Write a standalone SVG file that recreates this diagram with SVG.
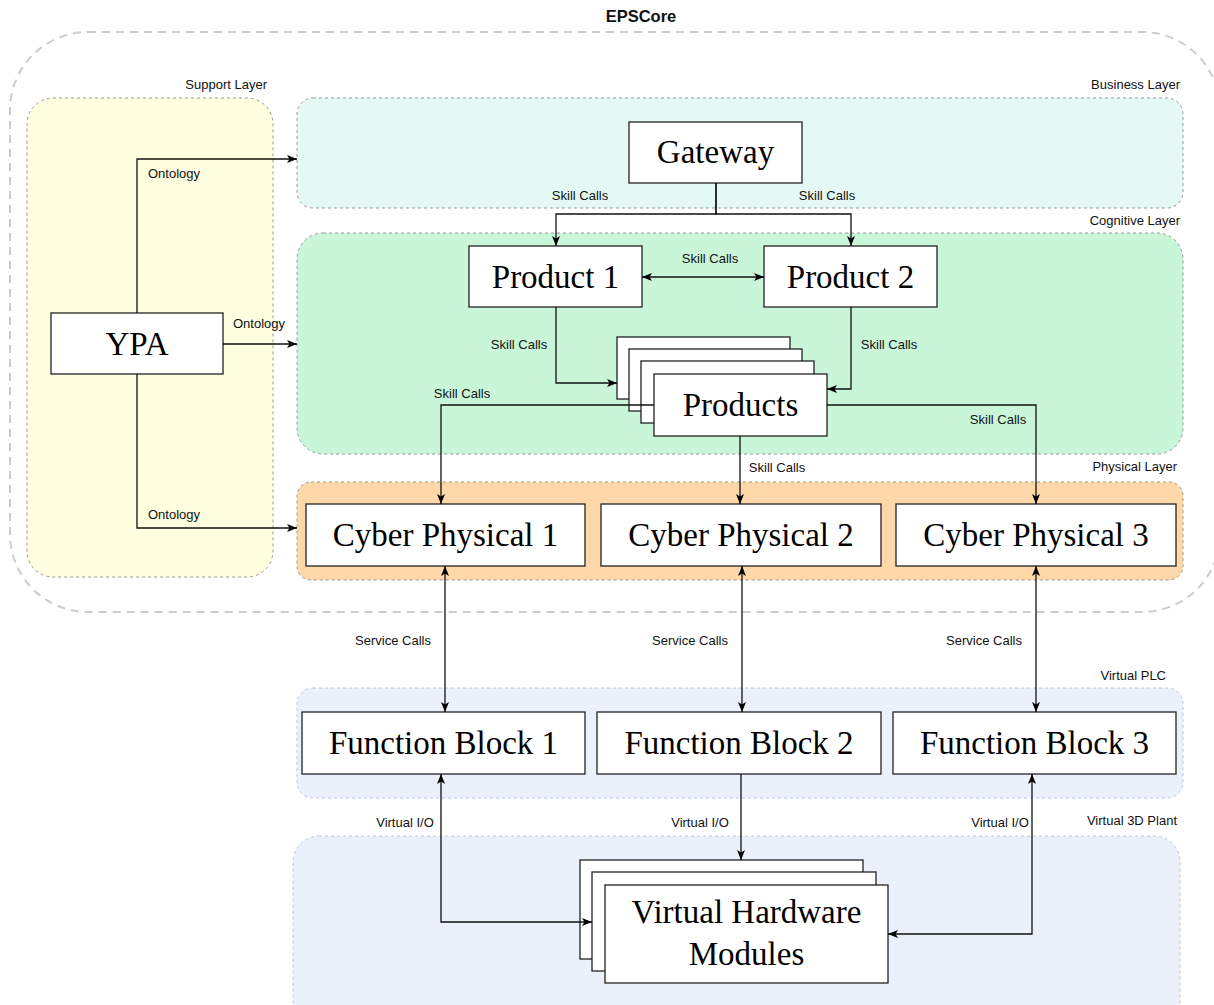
<svg xmlns="http://www.w3.org/2000/svg" width="1214" height="1005" viewBox="0 0 1214 1005">
  <style>
    .layer { stroke: #999999; stroke-width: 1; stroke-dasharray: 3 3; }
    .blue { stroke: #b4c6e6; }
    .lbl { font-family: "Liberation Sans", Arial, sans-serif; font-size: 13px; fill: #111; }
    .node rect { fill: #ffffff; stroke: #222222; stroke-width: 1.3; }
    .node text { font-family: "Liberation Serif", "Times New Roman", serif; font-size: 33px; fill: #000; text-anchor: middle; }
    .conn path { fill: none; stroke: #111; stroke-width: 1.3; }
  </style>
  <defs>
    <marker id="arr" viewBox="0 0 10 8" refX="10" refY="4" markerWidth="10" markerHeight="8" markerUnits="userSpaceOnUse" orient="auto-start-reverse">
      <path d="M0,0 L10,4 L0,8 L2.5,4 Z" fill="#000"/>
    </marker>
  </defs>
  <rect width="1214" height="1005" fill="#ffffff"/>

  <!-- EPSCore container -->
  <g id="epscore">
    <rect x="10" y="32" width="1210" height="580" rx="78" ry="78" fill="none" stroke="#cccccc" stroke-width="2" stroke-dasharray="8 6"/>
    <text x="641" y="22" font-family="Liberation Sans, Arial, sans-serif" font-size="16.5" font-weight="bold" text-anchor="middle" fill="#111">EPSCore</text>
  </g>

  <!-- Layers -->
  <g id="support-layer">
    <rect class="layer" x="27" y="98" width="246" height="479" rx="26" fill="#ffffe0"/>
    <text class="lbl" x="267" y="88.5" text-anchor="end">Support Layer</text>
  </g>
  <g id="business-layer">
    <rect class="layer" x="297" y="98" width="886" height="110" rx="16" fill="#e5f9f4"/>
    <text class="lbl" x="1180" y="88.5" text-anchor="end">Business Layer</text>
  </g>
  <g id="cognitive-layer">
    <rect class="layer" x="297" y="233" width="886" height="221" rx="26" fill="#c9f5d9"/>
    <text class="lbl" x="1180" y="224.5" text-anchor="end">Cognitive Layer</text>
  </g>
  <g id="physical-layer">
    <rect class="layer" x="297" y="482" width="886" height="98" rx="14" fill="#ffd8aa"/>
    <text class="lbl" x="1177" y="470.5" text-anchor="end">Physical Layer</text>
  </g>
  <g id="virtual-plc">
    <rect class="layer blue" x="297" y="688" width="886" height="110" rx="16" fill="#eaf1fb"/>
    <text class="lbl" x="1166" y="679.5" text-anchor="end">Virtual PLC</text>
  </g>
  <g id="virtual-3d-plant">
    <rect class="layer blue" x="293" y="836" width="887" height="190" rx="26" fill="#eaf1fb"/>
    <text class="lbl" x="1177" y="824.5" text-anchor="end">Virtual 3D Plant</text>
  </g>

  <!-- Nodes -->
  <g id="ypa" class="node">
    <rect x="51" y="313" width="172" height="61"/>
    <text x="137" y="355">YPA</text>
  </g>
  <g id="gateway" class="node">
    <rect x="629" y="122" width="173" height="61"/>
    <text x="715.5" y="163">Gateway</text>
  </g>
  <g id="product1" class="node">
    <rect x="469" y="246" width="173" height="61"/>
    <text x="555.5" y="288">Product 1</text>
  </g>
  <g id="product2" class="node">
    <rect x="764" y="246" width="173" height="61"/>
    <text x="850.5" y="288">Product 2</text>
  </g>
  <g id="products" class="node">
    <rect x="617" y="337" width="173" height="62"/>
    <rect x="629" y="349" width="173" height="62"/>
    <rect x="641" y="361" width="173" height="62"/>
    <rect x="654" y="374" width="173" height="62"/>
    <text x="740.5" y="416">Products</text>
  </g>
  <g id="cp1" class="node">
    <rect x="306" y="504" width="279" height="62"/>
    <text x="445.5" y="546">Cyber Physical 1</text>
  </g>
  <g id="cp2" class="node">
    <rect x="601" y="504" width="280" height="62"/>
    <text x="741" y="546">Cyber Physical 2</text>
  </g>
  <g id="cp3" class="node">
    <rect x="896" y="504" width="280" height="62"/>
    <text x="1036" y="546">Cyber Physical 3</text>
  </g>
  <g id="fb1" class="node">
    <rect x="302" y="712" width="283" height="62"/>
    <text x="443.5" y="754">Function Block 1</text>
  </g>
  <g id="fb2" class="node">
    <rect x="597" y="712" width="284" height="62"/>
    <text x="739" y="754">Function Block 2</text>
  </g>
  <g id="fb3" class="node">
    <rect x="893" y="712" width="283" height="62"/>
    <text x="1034.5" y="754">Function Block 3</text>
  </g>
  <g id="vhm" class="node">
    <rect x="580" y="860" width="283" height="99"/>
    <rect x="592" y="872" width="284" height="99"/>
    <rect x="605" y="885" width="283" height="98"/>
    <text x="746.5" y="923">Virtual Hardware</text>
    <text x="746.5" y="965">Modules</text>
  </g>

  <!-- Connectors -->
  <g id="connectors" class="conn">
    <path d="M137,313 V159 H297" marker-end="url(#arr)"/>
    <path d="M223,344 H297" marker-end="url(#arr)"/>
    <path d="M137,374 V528 H297" marker-end="url(#arr)"/>
    <path d="M716,183 V214 H556 V246" marker-end="url(#arr)"/>
    <path d="M716,183 V214 H851 V246" marker-end="url(#arr)"/>
    <path d="M642,277 H764" marker-start="url(#arr)" marker-end="url(#arr)"/>
    <path d="M556,307 V383 H617" marker-end="url(#arr)"/>
    <path d="M851,307 V389 H827" marker-end="url(#arr)"/>
    <path d="M654,405 H441 V504" marker-end="url(#arr)"/>
    <path d="M827,405 H1036 V504" marker-end="url(#arr)"/>
    <path d="M740,436 V504" marker-end="url(#arr)"/>
    <path d="M445,566 V712" marker-start="url(#arr)" marker-end="url(#arr)"/>
    <path d="M742,566 V712" marker-start="url(#arr)" marker-end="url(#arr)"/>
    <path d="M1036,566 V712" marker-start="url(#arr)" marker-end="url(#arr)"/>
    <path d="M441,774 V922 H592" marker-start="url(#arr)" marker-end="url(#arr)"/>
    <path d="M741,774 V860" marker-end="url(#arr)"/>
    <path d="M1032,774 V934 H888" marker-start="url(#arr)" marker-end="url(#arr)"/>
  </g>

  <!-- Connector labels -->
  <g id="connector-labels">
    <text class="lbl" x="148" y="177.5">Ontology</text>
    <text class="lbl" x="233" y="327.5">Ontology</text>
    <text class="lbl" x="148" y="518.5">Ontology</text>
    <text class="lbl" x="580" y="199.5" text-anchor="middle">Skill Calls</text>
    <text class="lbl" x="827" y="199.5" text-anchor="middle">Skill Calls</text>
    <text class="lbl" x="710" y="262.5" text-anchor="middle">Skill Calls</text>
    <text class="lbl" x="519" y="348.5" text-anchor="middle">Skill Calls</text>
    <text class="lbl" x="889" y="348.5" text-anchor="middle">Skill Calls</text>
    <text class="lbl" x="462" y="397.5" text-anchor="middle">Skill Calls</text>
    <text class="lbl" x="998" y="423.5" text-anchor="middle">Skill Calls</text>
    <text class="lbl" x="777" y="471.5" text-anchor="middle">Skill Calls</text>
    <text class="lbl" x="393" y="644.5" text-anchor="middle">Service Calls</text>
    <text class="lbl" x="690" y="644.5" text-anchor="middle">Service Calls</text>
    <text class="lbl" x="984" y="644.5" text-anchor="middle">Service Calls</text>
    <text class="lbl" x="405" y="826.5" text-anchor="middle">Virtual I/O</text>
    <text class="lbl" x="700" y="826.5" text-anchor="middle">Virtual I/O</text>
    <text class="lbl" x="1000" y="826.5" text-anchor="middle">Virtual I/O</text>
  </g>
</svg>
